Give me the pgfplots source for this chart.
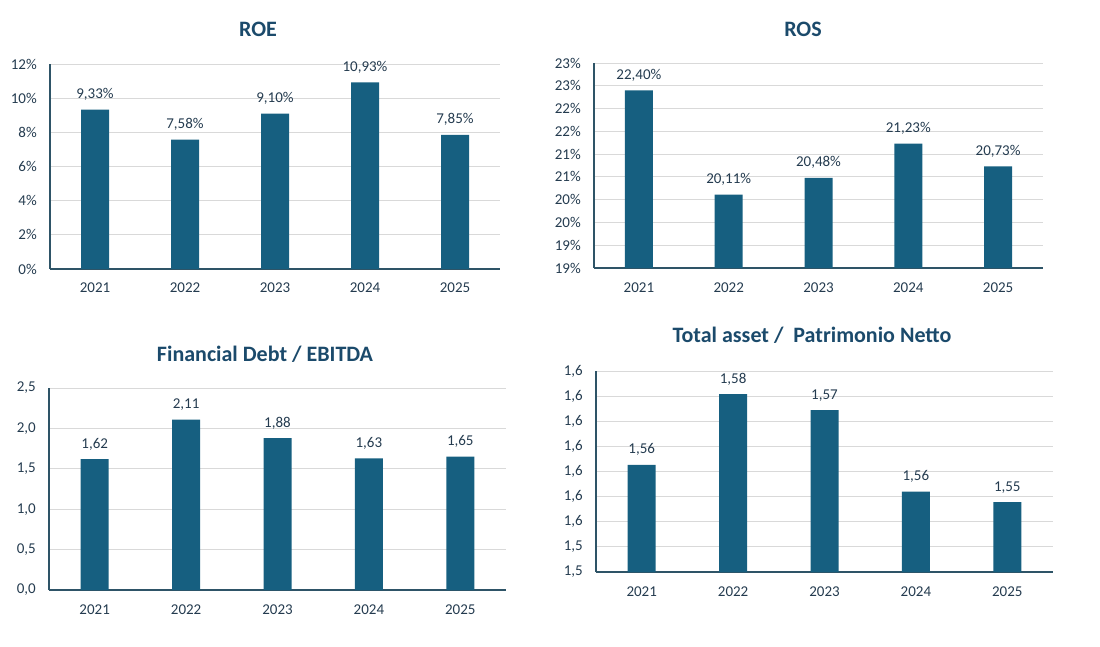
\documentclass[border=0pt]{standalone}
\usepackage{pgfplots}
\pgfplotsset{compat=1.18}
\usepackage{fontspec}
\setmainfont{Carlito}

\definecolor{barcol}{HTML}{165F80}
\definecolor{titlecol}{HTML}{1B4A6B}
\definecolor{textcol}{HTML}{243B4F}
\definecolor{axiscol}{HTML}{2E5467}
\definecolor{gridcol}{HTML}{D9D9D9}

\pgfkeys{/pgf/number format/assume math mode=true}

\pgfplotsset{
  kpi/.style={
    scale only axis,
    anchor=south west,
    ybar, bar width=28pt,
    xmin=-0.5, xmax=4.5,
    xtick={0,1,2,3,4},
    xticklabels={2021,2022,2023,2024,2025},
    axis x line*=bottom, axis y line*=left,
    axis line style={draw=axiscol, line width=1.6pt},
    major tick length=0pt,
    ymajorgrids, grid style={draw=gridcol, line width=0.8pt},
    tick label style={font=\fontsize{15}{17}\selectfont, text=textcol},
    xticklabel style={anchor=base, yshift=-24pt},
    yticklabel style={anchor=east, inner sep=0pt, xshift=-13pt},
    every node near coord/.append style={font=\fontsize{15}{17}\selectfont,
      text=textcol, anchor=base, yshift=11pt},
    clip=false,
  },
  bars/.style={fill=barcol, draw=none},
}
\tikzset{ttl/.style={anchor=base, font=\fontsize{22}{26}\selectfont\bfseries, text=titlecol}}

\begin{document}
\begin{tikzpicture}[x=1pt,y=1pt]
\useasboundingbox (0,0) rectangle (1100,646);

% ROE
\begin{axis}[kpi, at={(50pt,377pt)}, width=450pt, height=205pt,
    ymin=0, ymax=12, ytick={0,2,4,6,8,10,12},
    yticklabels={0\%,2\%,4\%,6\%,8\%,10\%,12\%},
    nodes near coords={\pgfmathprintnumber[fixed,fixed zerofill,precision=2,use comma]{\pgfplotspointmeta}\%}]
\addplot[bars] coordinates {(0,9.33) (1,7.58) (2,9.10) (3,10.93) (4,7.85)};
\end{axis}
\node[ttl] at (258,609) {ROE};

% ROS
\begin{axis}[kpi, at={(594pt,378pt)}, width=449pt, height=205pt,
    ymin=18.5, ymax=23, ytick={18.5,19,19.5,20,20.5,21,21.5,22,22.5,23},
    yticklabels={19\%,19\%,20\%,20\%,21\%,21\%,22\%,22\%,23\%,23\%},
    nodes near coords={\pgfmathprintnumber[fixed,fixed zerofill,precision=2,use comma]{\pgfplotspointmeta}\%}]
\addplot[bars] coordinates {(0,22.40) (1,20.11) (2,20.48) (3,21.23) (4,20.73)};
\end{axis}
\node[ttl] at (803,609) {ROS};

% Financial Debt / EBITDA
\begin{axis}[kpi, at={(49pt,56pt)}, width=457pt, height=202pt,
    ymin=0, ymax=2.5, ytick={0,0.5,1,1.5,2,2.5},
    yticklabels={{0,0},{0,5},{1,0},{1,5},{2,0},{2,5}},
    nodes near coords={\pgfmathprintnumber[fixed,fixed zerofill,precision=2,use comma]{\pgfplotspointmeta}}]
\addplot[bars] coordinates {(0,1.62) (1,2.11) (2,1.88) (3,1.63) (4,1.65)};
\end{axis}
\node[ttl] at (265,284) {Financial Debt / EBITDA};

% Total asset / Patrimonio Netto
\begin{axis}[kpi, at={(596pt,74pt)}, width=457pt, height=201pt,
    ymin=1.54, ymax=1.58, ytick={1.54,1.545,1.55,1.555,1.56,1.565,1.57,1.575,1.58},
    yticklabels={{1,5},{1,5},{1,6},{1,6},{1,6},{1,6},{1,6},{1,6},{1,6}},
    nodes near coords={\pgfmathprintnumber[fixed,fixed zerofill,precision=2,use comma]{\pgfplotspointmeta}}]
\addplot[bars] coordinates {(0,1.5613) (1,1.5754) (2,1.5722) (3,1.5560) (4,1.5539)};
\end{axis}
\node[ttl] at (812,303) {Total asset /\ \ Patrimonio Netto};
\end{tikzpicture}
\end{document}
